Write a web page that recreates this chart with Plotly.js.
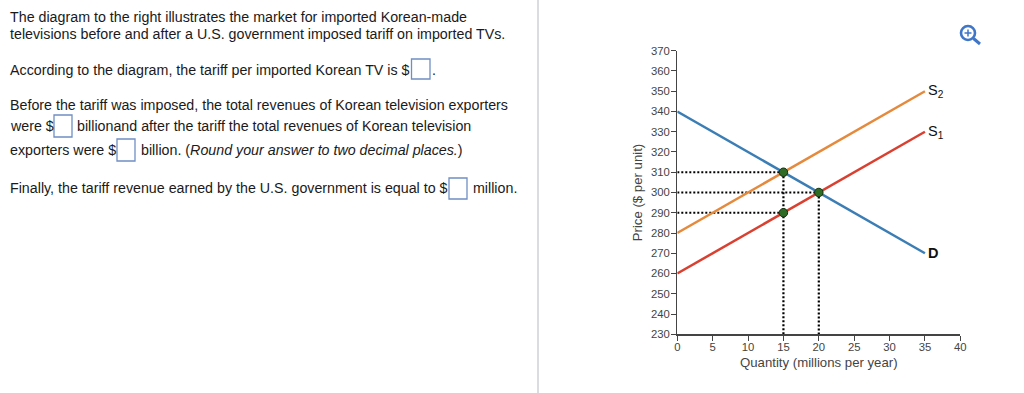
<!DOCTYPE html>
<html>
<head>
<meta charset="utf-8">
<script src="https://cdn.plot.ly/plotly-3.0.1.min.js"></script>
<style>html,body{margin:0;padding:0;background:#fff}#chart{width:1024px;height:393px}</style>
</head>
<body>
<div id="chart"></div>
<script>
var quantityEnds = [0, 35];
var demandPrices = [340, 270];
var supply1Prices = [260, 330];
var supply2Prices = [280, 350];
var pointQuantities = [15, 20, 15];
var pointPrices = [310, 300, 290];
var xTicks = [0, 5, 10, 15, 20, 25, 30, 35, 40];
var yTicks = [230, 240, 250, 260, 270, 280, 290, 300, 310, 320, 330, 340, 350, 360, 370];

var W = 1024, H = 393;
function px(x) { return x / W; }
function py(y) { return 1 - y / H; }

var passages = [
  ['The diagram to the right illustrates the market for imported Korean-made', 9, 17],
  ['televisions before and after a U.S. government imposed tariff on imported TVs.', 9, 34],
  ['According to the diagram, the tariff per imported Korean TV is $', 9, 70],
  ['.', 430.5, 70],
  ['Before the tariff was imposed, the total revenues of Korean television exporters', 9, 104.5],
  ['were $', 9, 126],
  ['billionand after the tariff the total revenues of Korean television', 76, 126],
  ['exporters were $', 9, 150],
  ['billion. (<i>Round your answer to two decimal places.</i>)', 140, 150],
  ['Finally, the tariff revenue earned by the U.S. government is equal to $', 9, 188],
  ['million.', 471.5, 188]
];
var answerBoxes = [[411.5, 59, 430, 79], [54, 115, 72, 137], [117, 139, 135, 161], [449, 178, 467, 199]];

var textFont = {family: '"Liberation Sans", Arial, sans-serif', size: 14.25, color: '#1a1a1a'};
var annotations = passages.map(function (p) {
  return {text: p[0], xref: 'paper', yref: 'paper', x: px(p[1]), y: py(p[2]), xanchor: 'left', yanchor: 'middle',
          showarrow: false, font: textFont, align: 'left', borderpad: 0};
});
var curveFont = {family: '"Liberation Sans", Arial, sans-serif', size: 14.5, color: '#111'};
[['S<sub>2</sub>', supply2Prices[1]], ['S<sub>1</sub>', supply1Prices[1]], ['<b>D</b>', demandPrices[1]]].forEach(function (l) {
  annotations.push({text: l[0], xref: 'x', yref: 'y', x: quantityEnds[1], y: l[1], xanchor: 'left', yanchor: 'middle',
                    xshift: 1, yshift: 0, showarrow: false, font: curveFont});
});

var shapes = [{type: 'line', xref: 'paper', yref: 'paper', x0: px(538), x1: px(538), y0: py(0), y1: py(393),
               line: {color: '#d9dce0', width: 2}}];
answerBoxes.forEach(function (b) {
  shapes.push({type: 'rect', xref: 'paper', yref: 'paper', x0: px(b[0]), x1: px(b[2]), y0: py(b[1]), y1: py(b[3]),
               line: {color: '#6f8fc4', width: 1.3}});
});
var iconBlue = '#3f76c8';
shapes.push({type: 'circle', xref: 'paper', yref: 'paper', x0: px(961), x1: px(975), y0: py(26), y1: py(40),
             line: {color: iconBlue, width: 2.6}});
shapes.push({type: 'line', xref: 'paper', yref: 'paper', x0: px(973.5), x1: px(980), y0: py(38.5), y1: py(44),
             line: {color: iconBlue, width: 3}});
shapes.push({type: 'line', xref: 'paper', yref: 'paper', x0: px(964.5), x1: px(971.5), y0: py(33), y1: py(33),
             line: {color: iconBlue, width: 1.5}});
shapes.push({type: 'line', xref: 'paper', yref: 'paper', x0: px(968), x1: px(968), y0: py(29.5), y1: py(36.5),
             line: {color: iconBlue, width: 1.5}});

function guide(xs, ys) {
  return {x: xs, y: ys, mode: 'lines', line: {color: '#000', width: 2.2, dash: '2px 2px'}, hoverinfo: 'skip', showlegend: false};
}
function curve(ys, color) {
  return {x: quantityEnds, y: ys, mode: 'lines', line: {color: color, width: 2.5}, showlegend: false};
}
var traces = [
  guide([0, pointQuantities[0]], [pointPrices[0], pointPrices[0]]),
  guide([0, pointQuantities[1]], [pointPrices[1], pointPrices[1]]),
  guide([0, pointQuantities[2]], [pointPrices[2], pointPrices[2]]),
  guide([pointQuantities[0], pointQuantities[0]], [pointPrices[0], yTicks[0]]),
  guide([pointQuantities[1], pointQuantities[1]], [pointPrices[1], yTicks[0]]),
  curve(supply2Prices, '#e58a3c'),
  curve(supply1Prices, '#d9402f'),
  curve(demandPrices, '#3b7db5'),
  {x: pointQuantities, y: pointPrices, mode: 'markers', cliponaxis: false, showlegend: false,
   marker: {size: 8.5, color: '#2e6b23', line: {color: '#14300f', width: 1}}}
];

var axisFont = {family: '"Liberation Sans", Arial, sans-serif', size: 11.3, color: '#444'};
var titleFont = {family: '"Liberation Sans", Arial, sans-serif', size: 13.2, color: '#444'};
var layout = {
  width: W, height: H, margin: {l: 0, r: 0, t: 0, b: 0}, paper_bgcolor: '#fff', plot_bgcolor: '#fff', showlegend: false,
  xaxis: {domain: [px(677.3), px(960.3)], range: [0, 40], tickvals: xTicks, ticks: 'outside', ticklen: 5, tickwidth: 1,
          tickcolor: '#444', showline: true, linecolor: '#444', linewidth: 1.2, showgrid: false, zeroline: false,
          ticklabelstandoff: -3, tickfont: axisFont, automargin: false,
          title: {text: 'Quantity (millions per year)', font: titleFont, standoff: 5}},
  yaxis: {domain: [py(334.3), py(50.7)], range: [230, 370], tickvals: yTicks, ticks: 'outside', ticklen: 5, tickwidth: 1,
          tickcolor: '#444', showline: true, linecolor: '#444', linewidth: 1.2, showgrid: false, zeroline: false,
          ticklabelstandoff: -1, tickfont: axisFont, automargin: false,
          title: {text: 'Price ($ per unit)', font: titleFont, standoff: 5}},
  annotations: annotations, shapes: shapes
};
Plotly.newPlot('chart', traces, layout, {displayModeBar: false, staticPlot: true});
</script>
</body>
</html>
